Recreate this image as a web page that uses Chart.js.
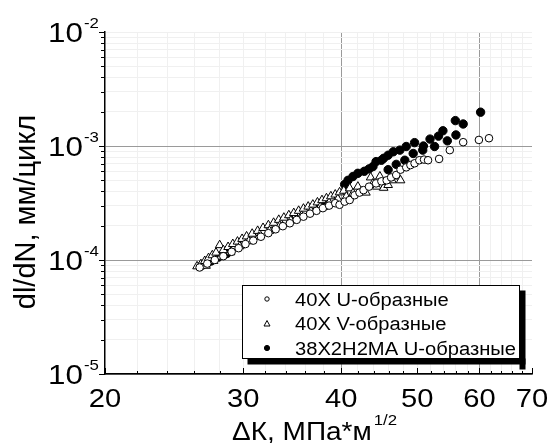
<!DOCTYPE html>
<html>
<head>
<meta charset="utf-8">
<script src="https://cdn.jsdelivr.net/npm/chart.js@4/dist/chart.umd.min.js"></script>
<style>
  html, body { margin: 0; padding: 0; background: #fff; }
  canvas { display: block; }
</style>
</head>
<body>
<canvas id="crackChart" width="548" height="443"></canvas>
<script>
/* ========================
   DATA
=========================*/
const seriesLabels = ['40Х U-образные', '40Х V-образные', '38Х2Н2МА U-образные'];

// 40Х U-образные (open circles)
const uK = [26.4, 27.0, 27.6, 28.3, 29.0, 29.6, 30.2, 30.9, 31.6, 32.3, 33.0, 33.7, 34.4, 35.1, 35.8,
  36.5, 37.2, 37.9, 38.6, 39.3, 39.8, 40.4, 41.0, 41.6, 42.2, 42.7, 43.4, 44.3, 45.0, 45.7,
  46.3, 47.0, 47.6, 48.4, 49.0, 49.6, 50.3, 51.0, 51.6, 53.3, 55.0, 57.2, 59.9, 61.7];
const uRate = [8.6e-5, 9.3e-5, 1.0e-4, 1.08e-4, 1.18e-4, 1.27e-4, 1.38e-4, 1.48e-4, 1.6e-4, 1.72e-4, 1.86e-4, 1.98e-4, 2.1e-4, 2.25e-4, 2.4e-4,
  2.55e-4, 2.7e-4, 2.85e-4, 3.0e-4, 3.15e-4, 3.05e-4, 3.25e-4, 3.36e-4, 3.7e-4, 3.9e-4, 4.1e-4, 4.4e-4, 4.7e-4, 4.9e-4, 5.0e-4,
  5.3e-4, 5.57e-4, 6.2e-4, 6.5e-4, 6.8e-4, 7.05e-4, 7.5e-4, 7.6e-4, 7.5e-4, 7.7e-4, 9.2e-4, 1.08e-3, 1.13e-3, 1.17e-3];

// 40Х V-образные (open triangles)
const vK = [26.2, 26.5, 26.8, 26.9, 27.1, 27.4, 27.5, 27.7, 28.0, 28.1, 28.3, 28.7, 28.9, 29.1, 29.5, 29.7,
  29.9, 30.3, 30.5, 30.8, 31.3, 31.4, 31.8, 32.3, 32.4, 32.8, 33.3, 33.4, 33.8, 34.3, 34.5, 34.8,
  35.3, 35.6, 35.8, 36.3, 36.6, 36.8, 37.3, 37.6, 37.8, 38.3, 38.6, 38.8, 39.3, 39.6, 39.8, 40.3,
  40.6, 41.0, 41.4, 42.0, 42.5, 43.0, 43.6, 43.9, 44.4, 44.8, 45.3, 45.9, 46.4, 47.0, 47.6];
const vRate = [8.8e-5, 9.2e-5, 9.8e-5, 8.9e-5, 1.04e-4, 1.1e-4, 9.8e-5, 1.16e-4, 1.35e-4, 1.07e-4, 1.22e-4, 1.3e-4, 1.17e-4, 1.38e-4, 1.45e-4, 1.32e-4,
  1.53e-4, 1.61e-4, 1.46e-4, 1.7e-4, 1.8e-4, 1.6e-4, 1.91e-4, 2.02e-4, 1.8e-4, 2.12e-4, 2.25e-4, 2.0e-4, 2.35e-4, 2.47e-4, 2.22e-4, 2.58e-4,
  2.7e-4, 2.44e-4, 2.82e-4, 2.94e-4, 2.68e-4, 3.06e-4, 3.2e-4, 2.92e-4, 3.35e-4, 3.48e-4, 3.18e-4, 3.62e-4, 3.75e-4, 3.42e-4, 3.92e-4, 4.05e-4,
  3.6e-4, 4.25e-4, 3.85e-4, 4.4e-4, 4.0e-4, 3.9e-4, 5.3e-4, 4.7e-4, 4.4e-4, 5.4e-4, 4.3e-4, 4.55e-4, 5.0e-4, 5.4e-4, 5.0e-4];

// 38Х2Н2МА U-образные (filled circles)
const mK = [26.6, 27.3, 27.9, 28.6, 37.4, 38.2, 40.4, 40.8, 41.4, 42.0, 42.8, 43.4, 43.9, 44.3, 45.0, 45.3,
  45.9, 45.9, 46.6, 47.0, 47.5, 48.2, 48.4, 49.4, 49.6, 50.8, 50.9, 51.9, 52.6, 53.2, 53.9, 54.6,
  55.9, 56.0, 57.2, 60.2];
const mRate = [9.0e-5, 9.8e-5, 1.06e-4, 1.14e-4, 2.9e-4, 3.0e-4, 4.6e-4, 5.0e-4, 5.4e-4, 5.76e-4, 6.0e-4, 6.3e-4, 6.6e-4, 7.3e-4, 7.5e-4, 7.8e-4,
  8.3e-4, 6.2e-4, 8.9e-4, 6.9e-4, 9.2e-4, 7.5e-4, 9.9e-4, 8.6e-4, 1.07e-3, 9.2e-4, 1.0e-3, 1.15e-3, 9.9e-4, 1.22e-3, 1.36e-3, 1.11e-3,
  1.67e-3, 1.25e-3, 1.56e-3, 1.98e-3];

// tick labels
const xTickLabels = [20, 30, 40, 50, 60, 70];
const yDecades = [1e-5, 1e-4, 1e-3, 1e-2];
const yExponents = ['-5', '-4', '-3', '-2'];
const xTitle = 'ΔК, МПа*м';
const xTitleSup = '1/2';
const yTitle = 'dl/dN, мм/цикл';

/* ========================
   HELPERS
=========================*/
const FONT = '"Liberation Sans", Arial, sans-serif';
const SX = 1.12; // the scan is a bit wider than tall

const toPoints = (xs, ys) => xs.map((x, i) => ({ x: x, y: ys[i] }));
const isDecade = v => Math.abs(Math.log10(v) - Math.round(Math.log10(v))) < 1e-6;

function wideText(ctx, str, x, y, size, align) {
  ctx.save();
  ctx.font = size + 'px ' + FONT;
  ctx.textBaseline = 'alphabetic';
  ctx.textAlign = 'left';
  const w = ctx.measureText(str).width * SX;
  let x0 = x;
  if (align === 'center') x0 = x - w / 2;
  else if (align === 'right') x0 = x - w;
  ctx.translate(x0, y);
  ctx.scale(SX, 1);
  ctx.fillText(str, 0, 0);
  ctx.restore();
  return x0 + w;
}

// y ticks: 1..9 in every decade, x ticks every 2 units
const yTickVals = [];
[-5, -4, -3].forEach(e => {
  for (let m = 1; m <= 9; m++) yTickVals.push(m * Math.pow(10, e));
});
yTickVals.push(1e-2);
const xTickVals = [];
for (let k = 20; k <= 70; k += 2) xTickVals.push(k);

/* ========================
   OVERLAY (labels, ticks, legend)
=========================*/
const overlay = {
  id: 'overlay',
  afterDraw(chart) {
    const ctx = chart.ctx;
    const xs = chart.scales.x, ys = chart.scales.y;
    const area = chart.chartArea;
    ctx.save();
    ctx.strokeStyle = '#000';
    ctx.fillStyle = '#000';
    ctx.lineWidth = 1;

    // tick marks: y outward, x inward
    ys.ticks.forEach(t => {
      const py = Math.round(ys.getPixelForValue(t.value)) + 0.5;
      const len = isDecade(t.value) ? 6 : 4;
      ctx.beginPath();
      ctx.moveTo(area.left - len, py);
      ctx.lineTo(area.left, py);
      ctx.stroke();
    });
    xs.ticks.forEach(t => {
      const px = Math.round(xs.getPixelForValue(t.value)) + 0.5;
      const len = xTickLabels.includes(t.value) ? 6 : 3;
      ctx.beginPath();
      ctx.moveTo(px, area.bottom);
      ctx.lineTo(px, area.bottom - len);
      ctx.stroke();
    });

    // y tick labels 10^n
    yDecades.forEach((v, i) => {
      const py = ys.getPixelForValue(v);
      const end = wideText(ctx, '10', area.left - 22, py + 10, 28, 'right');
      wideText(ctx, yExponents[i], end + 1, py - 4, 15, 'left');
    });

    // x tick labels
    xTickLabels.forEach(v => {
      wideText(ctx, String(v), xs.getPixelForValue(v), 407, 26, 'center');
    });

    // x title
    const tEnd = wideText(ctx, xTitle, 232, 440, 25, 'left');
    wideText(ctx, xTitleSup, tEnd + 2, 425, 15, 'left');

    // y title
    ctx.save();
    ctx.translate(35, 212);
    ctx.rotate(-Math.PI / 2);
    ctx.font = '29px ' + FONT;
    ctx.textAlign = 'center';
    ctx.textBaseline = 'alphabetic';
    ctx.fillText(yTitle, 0, 0);
    ctx.restore();

    // legend box with shadow
    const bx = 242.5, by = 285.5, bw = 277, bh = 73;
    ctx.fillRect(bx + 5, by + bh, bw + 1, 6);
    ctx.fillRect(bx + bw, by + 5, 6, bh + 6);
    ctx.fillStyle = '#fff';
    ctx.fillRect(bx, by, bw, bh);
    ctx.strokeStyle = '#000';
    ctx.strokeRect(bx, by, bw, bh);

    const rows = [299, 323.5, 348];
    chart.data.datasets.forEach((ds, i) => {
      const cy = rows[i];
      const mx = 267;
      ctx.lineWidth = 1;
      ctx.strokeStyle = '#000';
      ctx.beginPath();
      if (ds.pointStyle === 'triangle') {
        ctx.moveTo(mx, cy - 3);
        ctx.lineTo(mx + 3, cy + 2.5);
        ctx.lineTo(mx - 3, cy + 2.5);
        ctx.closePath();
        ctx.fillStyle = '#fff';
        ctx.fill();
        ctx.stroke();
      } else {
        ctx.arc(mx, cy, ds.backgroundColor === '#000' ? 2.6 : 2.2, 0, Math.PI * 2);
        ctx.fillStyle = ds.backgroundColor;
        ctx.fill();
        ctx.stroke();
      }
      ctx.fillStyle = '#000';
      wideText(ctx, ds.label, 295, cy + 6.5, 18, 'left');
    });

    ctx.restore();
  }
};

/* ========================
   CHART
=========================*/
const ctxMain = document.getElementById('crackChart').getContext('2d');

const dataMain = {
  datasets: [
    {
      label: seriesLabels[0],
      data: toPoints(uK, uRate),
      pointStyle: 'circle',
      pointRadius: 3.8,
      backgroundColor: '#fff',
      borderColor: '#000',
      borderWidth: 1
    },
    {
      label: seriesLabels[1],
      data: toPoints(vK, vRate),
      pointStyle: 'triangle',
      pointRadius: 5,
      backgroundColor: '#fff',
      borderColor: '#000',
      borderWidth: 1
    },
    {
      label: seriesLabels[2],
      data: toPoints(mK, mRate),
      pointStyle: 'circle',
      pointRadius: 4.2,
      backgroundColor: '#000',
      borderColor: '#000',
      borderWidth: 1
    }
  ]
};

const configMain = {
  type: 'scatter',
  data: dataMain,
  options: {
    responsive: false,
    animation: false,
    layout: { padding: { top: 32, right: 16, left: 0, bottom: 0 } },
    scales: {
      x: {
        type: 'logarithmic',
        min: 20,
        max: 70,
        afterBuildTicks: s => { s.ticks = xTickVals.map(v => ({ value: v })); },
        afterFit: s => { s.height = 69; },
        ticks: { display: false },
        border: { display: true, color: '#000', width: 1.5 },
        grid: {
          drawTicks: false,
          lineWidth: 1,
          color: c => {
            const v = c.tick ? c.tick.value : 0;
            if (v === 40 || v === 60) return '#9a9a9a';
            if (v === 20 || v === 70) return 'rgba(0,0,0,0)';
            return '#f0f0f0';
          }
        }
      },
      y: {
        type: 'logarithmic',
        min: 1e-5,
        max: 1e-2,
        afterBuildTicks: s => { s.ticks = yTickVals.map(v => ({ value: v })); },
        afterFit: s => { s.width = 105; },
        ticks: { display: false },
        border: { display: true, color: '#000', width: 1.5 },
        grid: {
          drawTicks: false,
          lineWidth: 1,
          color: c => {
            const v = c.tick ? c.tick.value : 1;
            if (v > 9e-3) return '#f0f0f0';
            if (isDecade(v)) return '#9a9a9a';
            return '#f0f0f0';
          }
        }
      }
    },
    plugins: {
      legend: { display: false },
      tooltip: { enabled: false }
    }
  },
  plugins: [overlay]
};

new Chart(ctxMain, configMain);
</script>
</body>
</html>
